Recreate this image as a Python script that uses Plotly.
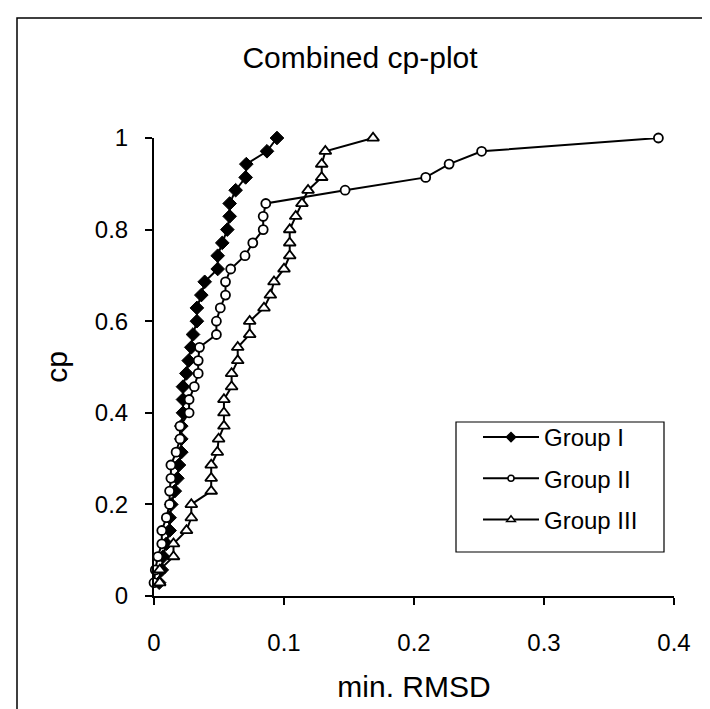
import plotly.graph_objects as go

# cumulative proportion (cp) levels
cp = [0.029, 0.057, 0.086, 0.114, 0.143, 0.171, 0.200, 0.229, 0.257, 0.286,
      0.314, 0.343, 0.371, 0.400, 0.429, 0.457, 0.486, 0.514, 0.543, 0.571,
      0.600, 0.629, 0.657, 0.686, 0.714, 0.743, 0.771, 0.800, 0.829, 0.857,
      0.886, 0.914, 0.943, 0.971, 1.000]

group1_rmsd = [0.004, 0.006, 0.007, 0.0095, 0.012, 0.012, 0.0133, 0.016, 0.018, 0.0192,
               0.021, 0.021, 0.021, 0.0223, 0.0223, 0.0223, 0.0249, 0.0267, 0.0287, 0.030,
               0.033, 0.033, 0.0364, 0.039, 0.049, 0.049, 0.0525, 0.0564, 0.0582, 0.0582,
               0.0628, 0.0705, 0.071, 0.0869, 0.0946]

group2_rmsd = [0.000, 0.001, 0.003, 0.006, 0.006, 0.0095, 0.012, 0.012, 0.013, 0.013,
               0.017, 0.020, 0.020, 0.027, 0.027, 0.031, 0.034, 0.034, 0.035, 0.048,
               0.048, 0.051, 0.055, 0.055, 0.059, 0.070, 0.076, 0.084, 0.084, 0.086,
               0.147, 0.209, 0.227, 0.252, 0.388]

group3_rmsd = [0.0044, 0.0044, 0.015, 0.015, 0.025, 0.0287, 0.0287, 0.044, 0.044, 0.044,
               0.0487, 0.0497, 0.0538, 0.0538, 0.0538, 0.0597, 0.0597, 0.0644, 0.0644, 0.0736,
               0.0736, 0.0846, 0.0895, 0.0923, 0.100, 0.1044, 0.1044, 0.1044, 0.109, 0.1138,
               0.1185, 0.129, 0.129, 0.1318, 0.1685]

series_names = ["Group I", "Group II", "Group III"]
x_tick_vals = [0, 0.1, 0.2, 0.3, 0.4]
x_tick_text = ["0", "0.1", "0.2", "0.3", "0.4"]
y_tick_vals = [0, 0.2, 0.4, 0.6, 0.8, 1]
y_tick_text = ["0", "0.2", "0.4", "0.6", "0.8", "1"]

FONT = "Liberation Sans, Arial, sans-serif"
W, H = 710, 709
L, R, T, B = 146, 44, 130, 121
pw, ph = W - L - R, H - T - B


def px_x(px):
    return (px - L) / pw


def px_y(py):
    return (H - B - py) / ph


styles = [
    dict(symbol="diamond", fill="black", size=10.5, lw=1, lsize=7),
    dict(symbol="circle", fill="white", size=9, lw=1.8, lsize=6),
    dict(symbol="triangle-up", fill="white", size=10.5, lw=1.8, lsize=7.5),
]
data = [group1_rmsd, group2_rmsd, group3_rmsd]

fig = go.Figure()
for name, xs, st in zip(series_names, data, styles):
    fig.add_trace(go.Scatter(
        x=xs, y=cp, mode="lines+markers", name=name, showlegend=False,
        legendgroup=name, cliponaxis=False,
        line=dict(color="black", width=2),
        marker=dict(symbol=st["symbol"], size=st["size"], color=st["fill"],
                    line=dict(color="black", width=st["lw"])),
    ))
for name, st in zip(series_names, styles):
    fig.add_trace(go.Scatter(
        x=[None], y=[None], mode="lines+markers", name=name, showlegend=True,
        legendgroup=name,
        line=dict(color="black", width=2),
        marker=dict(symbol=st["symbol"], size=st["lsize"], color=st["fill"],
                    line=dict(color="black", width=1.5)),
    ))

axis_common = dict(
    showline=True, linecolor="black", linewidth=2,
    ticks="outside", ticklen=7, tickwidth=2, tickcolor="black",
    showgrid=False, zeroline=False,
    tickfont=dict(family=FONT, size=24, color="black"),
)

fig.update_layout(
    width=W, height=H,
    margin=dict(l=L, r=R, t=T, b=B),
    paper_bgcolor="white", plot_bgcolor="white",
    font=dict(family=FONT, color="black"),
    title=dict(text="Combined cp-plot", x=352 / W, xanchor="center",
               y=1 - 49 / H, yanchor="middle", yref="container",
               font=dict(family=FONT, size=30, color="black")),
    xaxis=dict(range=[0, 0.4], tickvals=x_tick_vals, ticktext=x_tick_text,
               ticklabelstandoff=17,
               title=dict(text="min. RMSD", standoff=21,
                          font=dict(family=FONT, size=30, color="black")),
               **axis_common),
    yaxis=dict(range=[0, 1], tickvals=y_tick_vals, ticktext=y_tick_text,
               ticklabelstandoff=12,
               title=dict(text="cp", standoff=18,
                          font=dict(family=FONT, size=30, color="black")),
               **axis_common),
    legend=dict(x=px_x(470), y=px_y(407), xanchor="left", yanchor="top",
                bgcolor="rgba(0,0,0,0)", borderwidth=0,
                itemwidth=56, traceorder="grouped", tracegroupgap=7,
                font=dict(family=FONT, size=24, color="black")),
    shapes=[
        dict(type="rect", xref="paper", yref="paper",
             x0=px_x(448), x1=px_x(656), y0=px_y(544), y1=px_y(414),
             line=dict(color="black", width=1.2), fillcolor="white", layer="below"),
        dict(type="rect", xref="paper", yref="paper",
             x0=px_x(9), x1=px_x(701), y0=px_y(707), y1=px_y(10),
             line=dict(color="black", width=1.5), fillcolor="rgba(0,0,0,0)", layer="below"),
    ],
)

fig.write_html("out.html")
